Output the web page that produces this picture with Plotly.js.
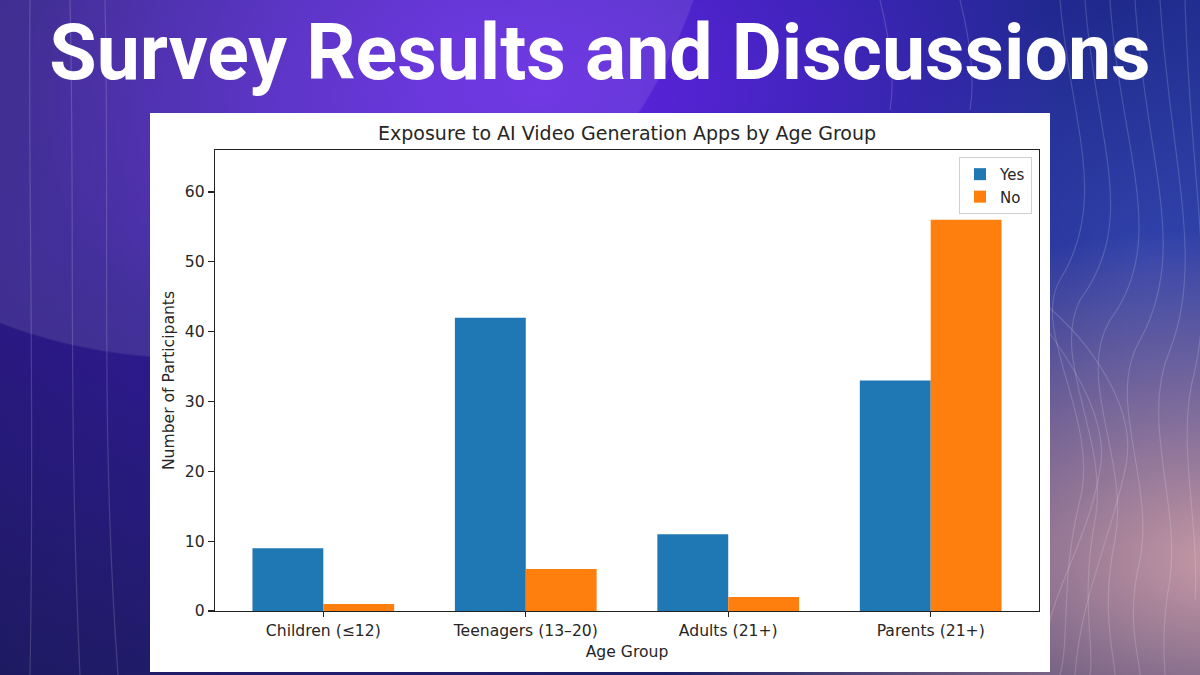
<!DOCTYPE html>
<html>
<head>
<meta charset="utf-8">
<script src="https://cdn.plot.ly/plotly-3.0.1.min.js"></script>
<style>
html,body{margin:0;padding:0;}
#wrap{width:1200px;height:675px;position:relative;overflow:hidden;
background:
 radial-gradient(circle at 190px -175px, rgba(255,255,255,0.10) 0 532px, rgba(0,0,0,0) 534px),
 radial-gradient(ellipse 600px 330px at 1230px 560px, rgba(210,160,168,0.95) 0%, rgba(210,160,168,0) 100%),
 radial-gradient(ellipse 520px 320px at 540px 90px, rgba(105,35,235,0.85) 0%, rgba(105,35,235,0) 100%),
 radial-gradient(ellipse 300px 260px at 1150px 260px, rgba(60,80,190,0.6) 0%, rgba(60,80,190,0) 100%),
 linear-gradient(to bottom, rgba(0,0,0,0) 35%, rgba(18,28,66,0.6) 100%),
 linear-gradient(100deg, #2b1785 0%, #3a1db2 35%, #2a24a2 60%, #1f2a8c 85%, #243494 100%);
}
#bglines{position:absolute;left:0;top:0;width:1200px;height:675px;}
#chart{position:absolute;left:0;top:0;width:1200px;height:675px;}
</style>
</head>
<body>
<div id="wrap">
<svg id="bglines" width="1200" height="675" viewBox="0 0 1200 675">
 <g fill="none" stroke="rgba(255,255,255,0.16)" stroke-width="1.2">
  <path d="M1060 0 C1070 120 1110 200 1060 280 C1030 330 1100 420 1080 500 C1060 580 1070 640 1060 675"/>
  <path d="M1085 0 C1095 140 1140 220 1080 300 C1050 360 1110 440 1095 520 C1080 600 1095 650 1090 675"/>
  <path d="M1110 0 C1120 150 1170 240 1110 320 C1075 380 1130 460 1115 540 C1100 610 1115 660 1115 675"/>
  <path d="M1135 0 C1145 160 1190 250 1140 340 C1105 400 1155 480 1140 560 C1125 620 1140 660 1140 675"/>
  <path d="M1160 0 C1170 160 1205 260 1170 350 C1140 420 1180 500 1170 580 C1160 630 1165 665 1165 675"/>
  <path d="M1185 0 C1190 180 1215 280 1195 370 C1175 440 1200 520 1195 600"/>
  <path d="M1040 320 C1070 360 1110 420 1100 470 C1090 530 1060 580 1050 620"/>
  <path d="M1040 300 C1090 340 1140 410 1125 470 C1110 540 1080 600 1075 675"/>
  <path d="M30 0 C28 200 35 400 30 675"/>
  <path d="M70 0 C75 200 68 420 80 675"/>
  <path d="M105 0 C110 220 100 430 118 675"/>
  <path d="M960 0 C970 40 975 80 970 110"/>
  <path d="M880 0 C890 40 895 80 890 110"/>
 </g>
</svg>
<div id="chart"></div>
</div>
<script>
var categories = ["Children (≤12)", "Teenagers (13–20)", "Adults (21+)", "Parents (21+)"];
var yesValues = [9, 42, 11, 33];
var noValues = [1, 6, 2, 56];
var seriesNames = ["Yes", "No"];
var yTickVals = [0, 10, 20, 30, 40, 50, 60];

var traces = [
  {type:'bar', x:categories, y:yesValues, name:seriesNames[0], marker:{color:'#1f77b4'}, hoverinfo:'skip'},
  {type:'bar', x:categories, y:noValues, name:seriesNames[1], marker:{color:'#ff7f0e'}, hoverinfo:'skip'}
];

var tickFont = {family:'DejaVu Sans, sans-serif', size:15.6, color:'#262626'};

var layout = {
  width:1200, height:675,
  paper_bgcolor:'rgba(0,0,0,0)',
  plot_bgcolor:'#ffffff',
  margin:{l:215, r:161, t:150, b:64, pad:0},
  barmode:'group', bargap:0.3, bargroupgap:0,
  showlegend:true,
  title:{text:'<b>Survey Results and Discussions</b>', x:0.5, xref:'container', xanchor:'center',
         y:1-52/675, yref:'container', yanchor:'middle',
         font:{family:'Roboto, sans-serif', size:77, color:'#ffffff'}},
  xaxis:{type:'category', range:[-0.535, 3.535], showline:true, mirror:true, linecolor:'#222', linewidth:1.2,
         ticks:'outside', ticklen:5, tickcolor:'#222', tickwidth:1.2, showgrid:false, zeroline:false,
         tickfont:tickFont, fixedrange:true,
         title:{text:'Age Group', font:tickFont, standoff:7}},
  yaxis:{range:[0, 66], tickvals:yTickVals, showline:true, mirror:true, linecolor:'#222', linewidth:1.2,
         ticks:'outside', ticklen:6, tickcolor:'#222', tickwidth:1.2, showgrid:false, zeroline:false,
         tickfont:tickFont, fixedrange:true,
         title:{text:'Number of Participants', font:tickFont, standoff:6}},
  legend:{x:0.9915, y:0.985, xanchor:'right', yanchor:'top', bgcolor:'#ffffff', bordercolor:'#d0d0d0',
          borderwidth:1, font:{family:'DejaVu Sans, sans-serif', size:15, color:'#262626'}, tracegroupgap:2},
  annotations:[
    {text:'Exposure to AI Video Generation Apps by Age Group', xref:'paper', yref:'paper', x:0.5, y:(611-133)/461,
     xanchor:'center', yanchor:'middle', showarrow:false,
     font:{family:'DejaVu Sans, sans-serif', size:19, color:'#262626'}}
  ],
  shapes:[
    {type:'rect', xref:'paper', yref:'paper', x0:(150-215)/824, x1:(1050-215)/824, y0:(611-672)/461, y1:(611-113)/461,
     fillcolor:'#ffffff', line:{width:0}, layer:'below'}
  ]
};

Plotly.newPlot('chart', traces, layout, {displayModeBar:false, staticPlot:true});
</script>
</body>
</html>
